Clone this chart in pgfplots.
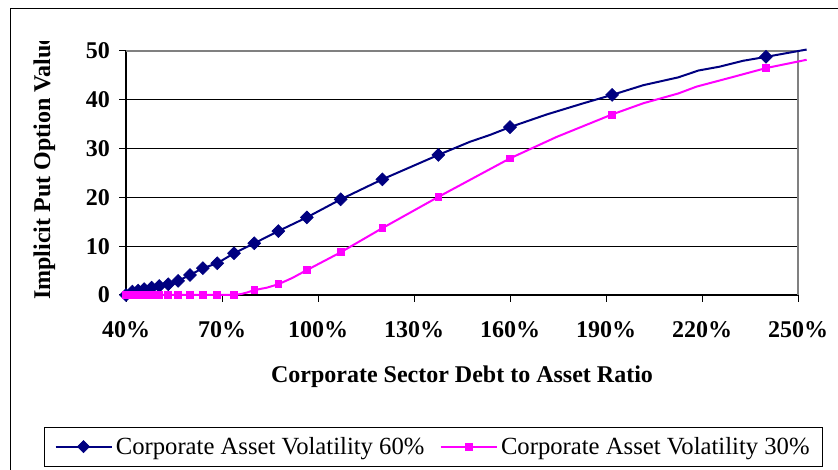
\documentclass[border=0pt]{standalone}
\usepackage{pgfplots}
\pgfplotsset{compat=1.18}
\usepackage{fontspec}
\setmainfont{Liberation Serif}
\definecolor{volhi}{HTML}{000080}
\definecolor{vollo}{HTML}{FF00FF}
\definecolor{frame}{HTML}{808080}

% 60% volatility: markers and the line through them
\pgfplotstableread{
x y
40 0
42.0 0.7
43.8 0.9
45.7 1.2
48.0 1.5
50.4 1.85
53.2 2.2
56.3 2.9
60.0 4.1
64.0 5.5
68.5 6.5
73.75 8.55
80.1 10.6
87.6 13.1
96.5 15.9
107.1 19.6
120.1 23.7
137.6 28.7
160.0 34.4
191.9 41.0
240.0 48.8
}\hiMarks
\pgfplotstableread{
x y
40 0
42.0 0.7
43.8 0.9
45.7 1.2
48.0 1.5
50.4 1.85
53.2 2.2
56.3 2.9
60.0 4.1
64.0 5.5
68.5 6.5
73.75 8.55
80.1 10.6
87.6 13.1
96.5 15.9
107.1 19.6
120.1 23.7
137.6 28.7
147.5 31.4
153.75 32.8
160.0 34.4
171.5 37.0
183.0 39.3
191.9 41.0
201.7 43.0
212.6 44.6
218.9 46.0
225.6 46.8
232.9 48.0
240.0 48.8
252.7 50.3
}\hiLine
% 30% volatility
\pgfplotstableread{
x y
40 0
42.0 0
43.8 0
45.7 0
48.0 0
50.4 0
53.2 0
56.3 0
60.0 0
64.0 0
68.5 0
73.75 0
80.1 1.0
87.6 2.2
96.5 5.1
107.1 8.75
120.1 13.7
137.6 20.1
160.0 28.0
191.9 37.0
240.0 46.5
}\loMarks
\pgfplotstableread{
x y
40 0
73.75 0
76.0 0.2
78.0 0.55
80.1 1.0
84.0 1.5
87.6 2.2
92.0 3.5
96.5 5.1
107.1 8.75
120.1 13.7
137.6 20.1
160.0 28.0
174.6 32.4
191.9 37.0
201.7 39.3
212.6 41.3
218.3 42.7
229.8 44.7
240.0 46.5
252.7 48.2
}\loLine

\begin{document}
\begin{tikzpicture}
\useasboundingbox (0,0) rectangle (628.5pt,352.5pt);
\draw[black, line width=0.75pt] (7.5pt,-20pt) -- (7.5pt,345.75pt) -- (660pt,345.75pt);

\begin{axis}[
  at={(94.5pt,131.25pt)}, anchor=south west,
  scale only axis, width=504pt, height=183pt,
  xmin=40, xmax=250, ymin=0, ymax=50,
  clip=false,
  axis x line*=bottom, axis y line*=left,
  axis line style={-, line width=1pt, black},
  tick align=outside, major tick length=5pt,
  tick style={black, line width=0.75pt},
  xtick={40,70,100,130,160,190,220,250},
  xticklabels={40\%,70\%,100\%,130\%,160\%,190\%,220\%,250\%},
  ytick={0,10,20,30,40,50},
  yticklabels={0,10,20,30,40,50},
  ymajorgrids, grid style={black, line width=0.75pt},
  ticklabel style={font=\fontsize{18}{21}\selectfont\bfseries},
  xticklabel style={yshift=-11pt},
  yticklabel style={xshift=-3.5pt},
  xlabel={Corporate Sector Debt to Asset Ratio},
  xlabel style={font=\fontsize{18}{21}\selectfont\bfseries,
    at={(axis description cs:0.5,0)}, anchor=base, yshift=-66pt},
  legend style={at={(axis description cs:-0.122,-0.7036)}, anchor=south west,
    draw=black, line width=0.75pt, fill=white,
    font=\fontsize{18.5}{21}\selectfont,
    inner xsep=7.5pt, inner ysep=5pt,
    nodes={inner sep=2.5pt},
    legend columns=2,
    /tikz/every even column/.append style={column sep=9pt}},
  legend image code/.code={\draw[mark repeat=2, mark phase=2, #1]
    plot coordinates {(0pt,0pt) (21pt,0pt) (42pt,0pt)};},
]
\draw[frame, line width=1.25pt] (rel axis cs:0,1) -- (rel axis cs:1,1) -- (rel axis cs:1,0);

\addlegendimage{volhi, line width=1.5pt, mark=square*, mark size=3.2pt,
  mark options={rotate=45, solid, line width=0.5pt}}
\addlegendentry{Corporate Asset Volatility 60\%}
\addlegendimage{vollo, line width=1.5pt, mark=square*, mark size=2.5pt,
  mark options={solid, line width=0.5pt}}
\addlegendentry{Corporate Asset Volatility 30\%}

\addplot[volhi, line width=1.5pt, no marks, forget plot] table {\hiLine};
\addplot[volhi, only marks, mark=square*, mark size=3.4pt,
  mark options={rotate=45, line width=0.5pt}, forget plot] table {\hiMarks};
\addplot[vollo, line width=1.5pt, no marks, forget plot] table {\loLine};
\addplot[vollo, only marks, mark=square*, mark size=2.6pt,
  mark options={line width=0.5pt}, forget plot] table {\loMarks};
\end{axis}

\begin{scope}
\clip (0pt,0pt) rectangle (80pt,321.2pt);
\node[rotate=90, anchor=base, font=\fontsize{18}{21}\selectfont\bfseries]
  at (37.5pt,227pt) {Implicit Put Option Value};
\end{scope}
\end{tikzpicture}
\end{document}
